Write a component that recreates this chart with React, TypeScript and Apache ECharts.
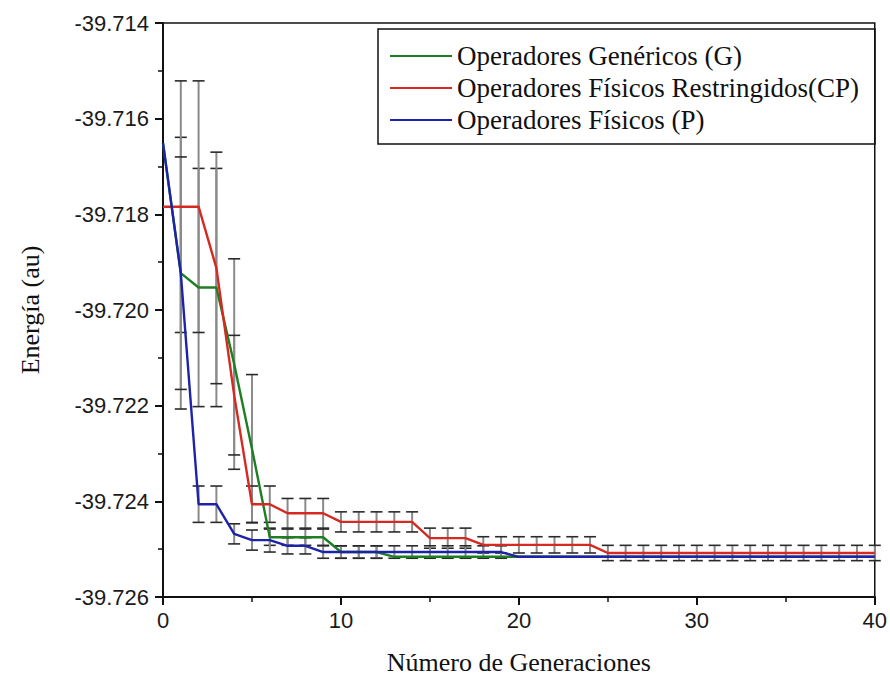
import React, { useEffect, useRef } from "react";
import * as echarts from "echarts";

// Generation numbers (x)
const generations = [
  0, 1, 2, 3, 4, 5, 6, 7, 8, 9, 10, 11, 12, 13, 14, 15, 16, 17, 18, 19, 20,
  21, 22, 23, 24, 25, 26, 27, 28, 29, 30, 31, 32, 33, 34, 35, 36, 37, 38, 39, 40,
];

// Operadores Genéricos (G)
const energyG = [
  -39.71651, -39.71923, -39.71953, -39.71953, -39.72113, -39.7229,
  -39.72475, -39.72475, -39.72475, -39.72475,
  -39.72506, -39.72506, -39.72506,
  -39.72516, -39.72516, -39.72516, -39.72516, -39.72516, -39.72516, -39.72516,
  -39.72516, -39.72516, -39.72516, -39.72516, -39.72516, -39.72516, -39.72516,
  -39.72516, -39.72516, -39.72516, -39.72516, -39.72516, -39.72516, -39.72516,
  -39.72516, -39.72516, -39.72516, -39.72516, -39.72516, -39.72516, -39.72516,
];
const errorG = [
  0, 0.00284, 0.00249, 0.00249, 0.0022, 0.00155,
  0.00017, 0.00017, 0.00017, 0.00017,
  0.00013, 0.00013, 0.00013,
  0, 0, 0, 0, 0, 0, 0, 0, 0, 0, 0, 0, 0, 0, 0, 0, 0, 0, 0, 0, 0, 0, 0, 0, 0, 0, 0, 0,
];

// Operadores Físicos Restringidos (CP)
const energyCP = [
  -39.71784, -39.71784, -39.71784, -39.71912, -39.72178,
  -39.72406, -39.72406,
  -39.72425, -39.72425, -39.72425,
  -39.72443, -39.72443, -39.72443, -39.72443, -39.72443,
  -39.72477, -39.72477, -39.72477,
  -39.72491, -39.72491, -39.72491, -39.72491, -39.72491, -39.72491, -39.72491,
  -39.72508, -39.72508, -39.72508, -39.72508, -39.72508, -39.72508, -39.72508,
  -39.72508, -39.72508, -39.72508, -39.72508, -39.72508, -39.72508, -39.72508,
  -39.72508, -39.72508,
];
const errorCP = [
  0, 0.00263, 0.00263, 0.00242, 0.00125,
  0.00038, 0.00038,
  0.00031, 0.00031, 0.00031,
  0.00021, 0.00021, 0.00021, 0.00021, 0.00021,
  0.00021, 0.00021, 0.00021,
  0.00017, 0.00017, 0.00017, 0.00017, 0.00017, 0.00017, 0.00017,
  0.00016, 0.00016, 0.00016, 0.00016, 0.00016, 0.00016, 0.00016, 0.00016,
  0.00016, 0.00016, 0.00016, 0.00016, 0.00016, 0.00016, 0.00016, 0.00016,
];

// Operadores Físicos (P)
const energyP = [
  -39.71651, -39.71923, -39.72406, -39.72406, -39.72468,
  -39.72481, -39.72481, -39.72493, -39.72493,
  -39.72506, -39.72506, -39.72506, -39.72506, -39.72506, -39.72506,
  -39.72506, -39.72506, -39.72506, -39.72506, -39.72506,
  -39.72516, -39.72516, -39.72516, -39.72516, -39.72516, -39.72516, -39.72516,
  -39.72516, -39.72516, -39.72516, -39.72516, -39.72516, -39.72516, -39.72516,
  -39.72516, -39.72516, -39.72516, -39.72516, -39.72516, -39.72516, -39.72516,
];
const errorP = [
  0, 0.00243, 0.00038, 0.00038, 0.00021,
  0.00021, 0.00025, 0.00017, 0.00017,
  0.00013, 0.00013, 0.00013, 0.00013, 0.00013, 0.00013,
  0.00013, 0.00013, 0.00013, 0.00013, 0.00013,
  0, 0, 0, 0, 0, 0, 0, 0, 0, 0, 0, 0, 0, 0, 0, 0, 0, 0, 0, 0, 0,
];

const seriesNames = [
  "Operadores Genéricos (G)",
  "Operadores Físicos Restringidos(CP)",
  "Operadores Físicos (P)",
];
const seriesColors = ["#1f7d22", "#d42a22", "#1d23a8"];

const SERIF = "'Liberation Serif', 'Times New Roman', serif";
const SANS = "'Liberation Sans', Arial, sans-serif";

function lineData(values: number[]) {
  return generations.map((g, i) => [g, values[i]]);
}
function errData(values: number[], errs: number[]) {
  return generations
    .map((g, i) => [g, values[i] - errs[i], values[i] + errs[i], errs[i]])
    .filter((d) => d[3] > 0);
}

function renderErr(params: any, api: any) {
  const x = api.value(0);
  const lo = api.coord([x, api.value(1)]);
  const hi = api.coord([x, api.value(2)]);
  const cap = 6;
  return {
    type: "group",
    children: [
      {
        type: "line",
        shape: { x1: lo[0], y1: lo[1], x2: hi[0], y2: hi[1] },
        style: { stroke: "#8a8a8a", lineWidth: 2 },
      },
      {
        type: "line",
        shape: { x1: lo[0] - cap, y1: lo[1], x2: lo[0] + cap, y2: lo[1] },
        style: { stroke: "#2a2a2a", lineWidth: 1.6 },
      },
      {
        type: "line",
        shape: { x1: hi[0] - cap, y1: hi[1], x2: hi[0] + cap, y2: hi[1] },
        style: { stroke: "#2a2a2a", lineWidth: 1.6 },
      },
    ],
  };
}

export default function App() {
  const ref = useRef<HTMLDivElement>(null);
  useEffect(() => {
    if (!ref.current) return;
    const chart = echarts.init(ref.current, undefined, { renderer: "svg" });
    const energies = [energyG, energyCP, energyP];
    const errors = [errorG, errorCP, errorP];
    const errSeries = energies.map((vals, k) => ({
      type: "custom",
      name: seriesNames[k] + " error",
      renderItem: renderErr,
      data: errData(vals, errors[k]),
      encode: { x: 0, y: [1, 2] },
      z: 1,
      silent: true,
    }));
    const lineSeries = energies.map((vals, k) => ({
      type: "line",
      name: seriesNames[k],
      data: lineData(vals),
      showSymbol: false,
      symbol: "none",
      lineStyle: { color: seriesColors[k], width: 2.4 },
      itemStyle: { color: seriesColors[k] },
      z: 3 + k,
    }));
    chart.setOption({
      animation: false,
      backgroundColor: "#ffffff",
      grid: {
        left: 163,
        right: 13,
        top: 23,
        bottom: 83,
        show: true,
        borderColor: "#111",
        borderWidth: 1.5,
      },
      legend: {
        data: seriesNames,
        orient: "vertical",
        left: 378,
        top: 29,
        padding: [13, 16, 10, 12],
        itemGap: 4,
        itemWidth: 62,
        itemHeight: 2,
        icon: "rect",
        borderColor: "#111",
        borderWidth: 1.5,
        textStyle: {
          fontFamily: SERIF,
          fontSize: 27,
          lineHeight: 28,
          color: "#111",
        },
      },
      xAxis: {
        type: "value",
        min: 0,
        max: 40,
        interval: 10,
        name: "Número de Generaciones",
        nameLocation: "middle",
        nameGap: 52,
        nameTextStyle: { fontFamily: SERIF, fontSize: 26, color: "#111" },
        axisLine: { show: true, lineStyle: { color: "#111", width: 2 } },
        axisTick: { show: true, length: 8, lineStyle: { color: "#111", width: 2 } },
        minorTick: { show: true, splitNumber: 2, length: 5, lineStyle: { color: "#111", width: 1.5 } },
        splitLine: { show: false },
        axisLabel: { fontFamily: SANS, fontSize: 22, color: "#1a1a1a", margin: 12 },
      },
      yAxis: {
        type: "value",
        min: -39.726,
        max: -39.714,
        interval: 0.002,
        name: "Energía (au)",
        nameLocation: "middle",
        nameGap: 120,
        nameTextStyle: { fontFamily: SERIF, fontSize: 26, color: "#111" },
        axisLine: { show: true, lineStyle: { color: "#111", width: 2 } },
        axisTick: { show: true, length: 8, lineStyle: { color: "#111", width: 2 } },
        minorTick: { show: true, splitNumber: 2, length: 5, lineStyle: { color: "#111", width: 1.5 } },
        splitLine: { show: false },
        axisLabel: {
          fontFamily: SANS,
          fontSize: 22,
          color: "#1a1a1a",
          margin: 14,
          formatter: (v: number) => v.toFixed(3),
        },
      },
      series: [...errSeries, ...lineSeries],
    });
    return () => chart.dispose();
  }, []);
  return (
    <div
      ref={ref}
      style={{ position: "fixed", left: 0, top: 0, width: 890, height: 680, background: "#fff" }}
    />
  );
}
